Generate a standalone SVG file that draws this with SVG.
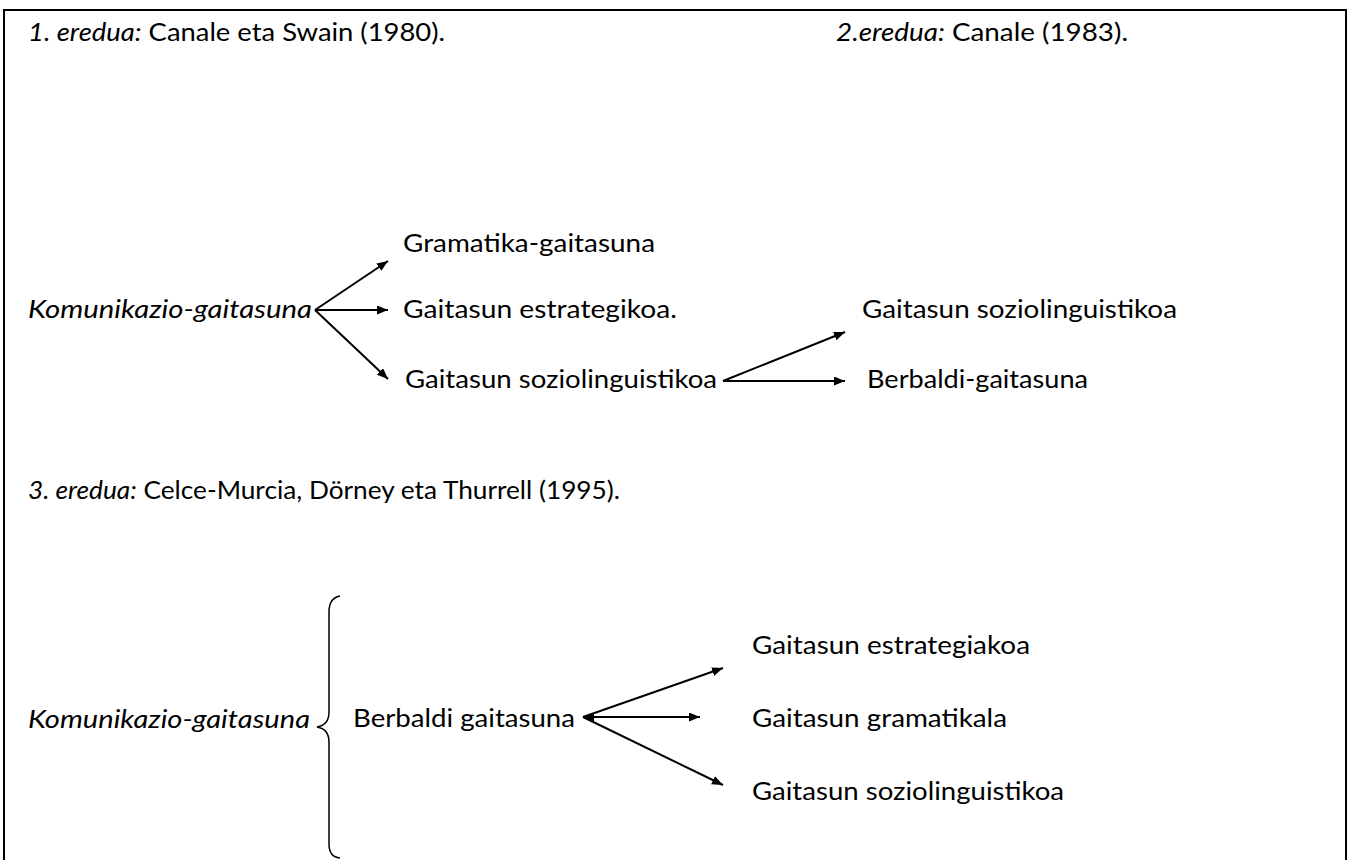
<svg xmlns="http://www.w3.org/2000/svg" width="1354" height="860" viewBox="0 0 1354 860">
<style>
text{font-family:Lato,"Open Sans","Liberation Sans",sans-serif;font-size:25px;fill:#000}
.it{font-style:italic}
.ln{stroke:#000;stroke-width:2;fill:none;marker-end:url(#ah)}
</style>
<defs>
<marker id="ah" markerUnits="userSpaceOnUse" markerWidth="12" markerHeight="10" refX="11" refY="4.5" orient="auto-start-reverse">
<path d="M0,0 L11,4.5 L0,9 Z" fill="#000"/>
</marker>
</defs>
<rect x="4" y="10" width="1342" height="870" fill="#fff" stroke="#000" stroke-width="2"/>
<g id="title1"><text x="28" y="41" textLength="417" lengthAdjust="spacingAndGlyphs"><tspan class="it">1. eredua:</tspan> Canale eta Swain (1980).</text></g>
<g id="title2"><text x="836" y="41" textLength="292" lengthAdjust="spacingAndGlyphs"><tspan class="it">2.eredua:</tspan> Canale (1983).</text></g>
<g id="n-komunikazio1"><text class="it" x="28" y="318" textLength="284" lengthAdjust="spacingAndGlyphs">Komunikazio-gaitasuna</text></g>
<g id="n-gramatika"><text x="403" y="252" textLength="252" lengthAdjust="spacingAndGlyphs">Gramatika-gaitasuna</text></g>
<g id="n-estrategikoa"><text x="403" y="318" textLength="274" lengthAdjust="spacingAndGlyphs">Gaitasun estrategikoa.</text></g>
<g id="n-sozio1"><text x="405" y="388" textLength="312" lengthAdjust="spacingAndGlyphs">Gaitasun soziolinguistikoa</text></g>
<g id="n-sozio2"><text x="862" y="318" textLength="315" lengthAdjust="spacingAndGlyphs">Gaitasun soziolinguistikoa</text></g>
<g id="n-berbaldi1"><text x="867" y="388" textLength="221" lengthAdjust="spacingAndGlyphs">Berbaldi-gaitasuna</text></g>
<g id="title3"><text x="28" y="499" textLength="592" lengthAdjust="spacingAndGlyphs"><tspan class="it">3. eredua:</tspan> Celce-Murcia, Dörney eta Thurrell (1995).</text></g>
<g id="n-komunikazio2"><text class="it" x="28" y="728" textLength="282" lengthAdjust="spacingAndGlyphs">Komunikazio-gaitasuna</text></g>
<g id="brace"><path d="M340,596 Q329,598 329,612 L329,712 Q329,725 317,727 Q329,729 329,742 L329,844 Q329,857 340,858" fill="none" stroke="#000" stroke-width="1.5"/></g>
<g id="n-berbaldi2"><text x="353" y="727" textLength="222" lengthAdjust="spacingAndGlyphs">Berbaldi gaitasuna</text></g>
<g id="n-estrategiakoa"><text x="752" y="654" textLength="278" lengthAdjust="spacingAndGlyphs">Gaitasun estrategiakoa</text></g>
<g id="n-gramatikala"><text x="752" y="727" textLength="255" lengthAdjust="spacingAndGlyphs">Gaitasun gramatikala</text></g>
<g id="n-sozio3"><text x="752" y="800" textLength="312" lengthAdjust="spacingAndGlyphs">Gaitasun soziolinguistikoa</text></g>
<g id="connectors">
<line class="ln" x1="315" y1="310" x2="388" y2="261"/>
<line class="ln" x1="315" y1="310" x2="388" y2="310"/>
<line class="ln" x1="315" y1="310" x2="388" y2="379"/>
<line class="ln" x1="723" y1="381" x2="845" y2="332"/>
<line class="ln" x1="723" y1="381" x2="845" y2="381"/>
<line class="ln" x1="583" y1="717" x2="723" y2="668"/>
<line class="ln" x1="583" y1="717" x2="700" y2="717" style="marker-start:url(#ah)"/>
<line class="ln" x1="583" y1="717" x2="723" y2="785"/>
</g>
</svg>
